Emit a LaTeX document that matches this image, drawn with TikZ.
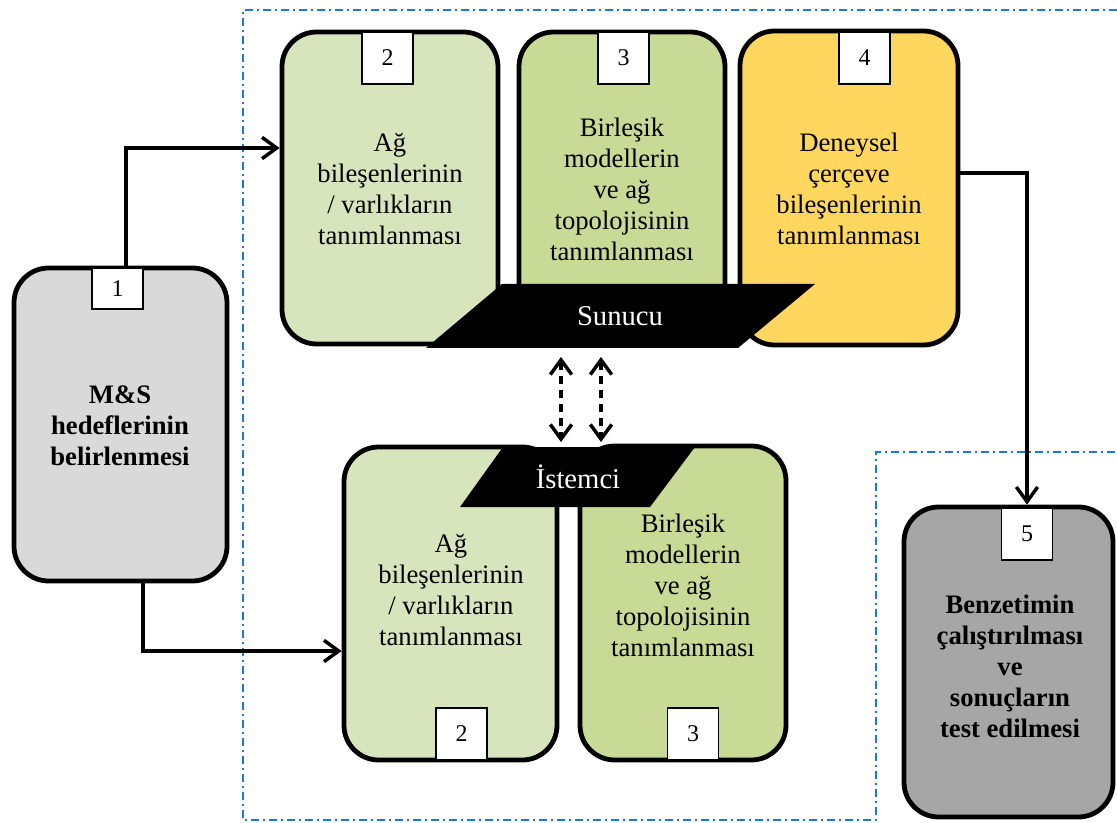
\documentclass[tikz,border=0pt]{standalone}
\usepackage{fontspec}
\setmainfont{Liberation Serif}
\usetikzlibrary{arrows.meta,calc}

\definecolor{goalgray}{HTML}{D9D9D9}
\definecolor{netgreen}{HTML}{D8E4BC}
\definecolor{topogreen}{HTML}{C9DA96}
\definecolor{framegold}{HTML}{FFD75E}
\definecolor{rungray}{HTML}{A6A6A6}
\definecolor{zoneblue}{HTML}{1F78D1}

\begin{document}
\begin{tikzpicture}[x=0.75pt,y=-0.75pt,
  box/.style={draw=black, line width=3.6pt, rounded corners=26pt, inner sep=0pt},
  numbox/.style={draw=black, fill=white, line width=0.9pt, inner sep=0pt,
    minimum width={51*0.75pt}, minimum height={52*0.75pt},
    font=\fontsize{18}{20}\selectfont},
  body/.style={align=center, inner sep=0pt, font=\fontsize{20}{23.25}\selectfont},
  boldbody/.style={body, font=\fontsize{20}{23.25}\selectfont\bfseries},
  bartext/.style={text=white, inner sep=0pt, font=\fontsize{21.5}{24}\selectfont},
  tip/.style={Straight Barb[length=11pt,width=16pt,line width=2.6pt]},
  conn/.style={line width=2.6pt, -{Straight Barb[length=11pt,width=16pt,line width=2.6pt]}},
  dbl/.style={line width=2.6pt, dash pattern=on 6.5pt off 4pt,
    {Straight Barb[length=11pt,width=16pt,line width=2.6pt]}-{Straight Barb[length=11pt,width=16pt,line width=2.6pt]}},
  zone/.style={draw=zoneblue, line width=1.5pt, dash pattern=on 6pt off 3pt on 1.5pt off 3pt}
]
\useasboundingbox (0,0) rectangle (1117,823);

% dash-dotted zone around the distributed part and the run step
\draw[zone] (1117,10) -- (243,10) -- (243,820) -- (876,820) -- (876,452) -- (1117,452);

% step 1
\node[box, fill=goalgray, minimum width={213*0.75pt}, minimum height={313*0.75pt}] (b1) at (120.5,424.5) {};
\node[boldbody] (b1t) at (120,426) {M\&S\\hedeflerinin\\belirlenmesi};
\node[numbox, minimum height={41*0.75pt}] (l1) at (117.5,288.5) {1};

% server side: steps 2, 3, 4
\node[box, fill=netgreen, minimum width={216*0.75pt}, minimum height={312*0.75pt}] (b2) at (390,188) {};
\node[body] (b2t) at (390,189) {Ağ\\bileşenlerinin\\/ varlıkların\\tanımlanması};
\node[numbox] (l2) at (387.5,58) {2};

\node[box, fill=topogreen, minimum width={206*0.75pt}, minimum height={312*0.75pt}] (b3) at (622,188) {};
\node[body] (b3t) at (622,189) {Birleşik\\modellerin\\ve ağ\\topolojisinin\\tanımlanması};
\node[numbox] (l3) at (623.5,58) {3};

\node[box, fill=framegold, minimum width={218*0.75pt}, minimum height={314*0.75pt}] (b4) at (849,188) {};
\node[body] (b4t) at (849,189) {Deneysel\\çerçeve\\bileşenlerinin\\tanımlanması};
\node[numbox] (l4) at (864.5,58) {4};

% server bar
\fill[black] (502,284) -- (815,284) -- (738,348) -- (426,348) -- cycle;
\node[bartext, minimum height={64*0.75pt}] (sunucu) at (620,316) {Sunucu};

% client side: steps 2, 3
\node[box, fill=netgreen, minimum width={213*0.75pt}, minimum height={313*0.75pt}] (bb2) at (450.5,603.5) {};
\node[body] (bb2t) at (451,590) {Ağ\\bileşenlerinin\\/ varlıkların\\tanımlanması};
\node[numbox] (lb2) at (461.5,734) {2};

\node[box, fill=topogreen, minimum width={206*0.75pt}, minimum height={314*0.75pt}] (bb3) at (683,603) {};
\node[body] (bb3t) at (683,585) {Birleşik\\modellerin\\ve ağ\\topolojisinin\\tanımlanması};
\node[numbox] (lb3) at (693,734) {3};

% client bar
\fill[black] (503,447) -- (695,447) -- (650,507) -- (460,507) -- cycle;
\node[bartext, minimum height={60*0.75pt}] (istemci) at (578,477) {İstemci};

% step 5
\node[box, fill=rungray, minimum width={209*0.75pt}, minimum height={310*0.75pt}] (b5) at (1008.5,662) {};
\node[boldbody] (b5t) at (1010,666) {Benzetimin\\çalıştırılması\\ve\\sonuçların\\test edilmesi};
\node[numbox] (l5) at (1027,534) {5};

% connectors
\draw[conn] ($(l1.north)+(8.5,0)$) |- ($(b2.west)+(0,-40)$);
\draw[conn] ($(b1.south)+(22.5,0)$) |- ($(bb2.west)+(0,47.5)$);
\draw[conn] ($(b4.east)+(0,-15)$) -| (b5.north -| l5.north);

% server/client exchange
\coordinate (dx1) at (561,0);
\coordinate (dx2) at (601,0);
\draw[dbl, shorten <=6.5pt, shorten >=3.5pt] (sunucu.south -| dx1) -- (istemci.north -| dx1);
\draw[dbl, shorten <=6.5pt, shorten >=3.5pt] (sunucu.south -| dx2) -- (istemci.north -| dx2);
\end{tikzpicture}
\end{document}
